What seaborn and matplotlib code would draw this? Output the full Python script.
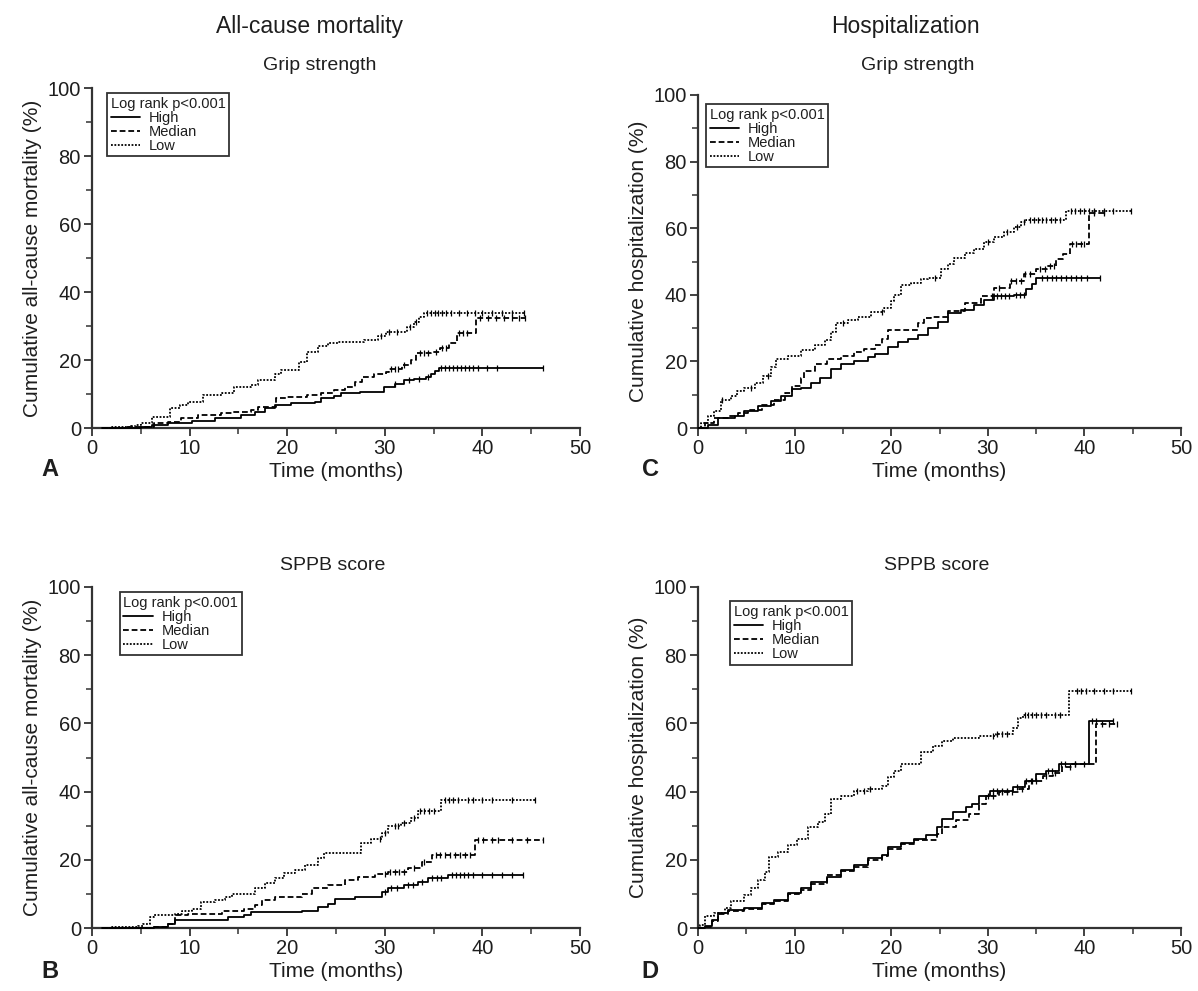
import numpy as np
import matplotlib
matplotlib.use("Agg")
import matplotlib.pyplot as plt
from matplotlib.lines import Line2D
from matplotlib.ticker import MultipleLocator
import seaborn as sns

# ---------------- data ----------------
GROUPS = ["High", "Median", "Low"]
COL_TITLES = ["All-cause mortality", "Hospitalization"]
ROW_TITLES = ["Grip strength", "SPPB score"]
YLABELS = ["Cumulative all-cause mortality (%)", "Cumulative hospitalization (%)"]
XLABEL = "Time (months)"
LEGEND_TITLE = "Log rank p<0.001"
PANEL_LETTERS = ["A", "C", "B", "D"]

# Panel A: grip strength, mortality
A_high_t = [1, 5, 6.1, 7.8, 10.2, 12.6, 15.3, 16.7, 17.7, 18.7, 20.4, 22.8, 23.5, 24.8, 25.5, 27.5, 29.9, 31, 32, 33, 34.2, 34.7, 35.1, 35.6, 46.2]
A_high_y = [0, 0.2, 0.9, 1.4, 2.0, 3.0, 3.8, 4.8, 5.8, 6.8, 7.3, 7.7, 8.7, 9.4, 10.2, 10.7, 12.2, 13.0, 14.0, 14.5, 15.0, 16.0, 16.8, 17.7, 17.7]
A_high_c = [31, 32.5, 33.5, 34.4, 35.8, 36.2, 36.6, 37.0, 37.4, 37.8, 38.2, 38.6, 39.0, 39.5, 40.5, 41.5, 46.2]
A_med_t = [1, 3.5, 5, 6.4, 7.8, 9.1, 10.9, 13.2, 14.3, 16.3, 17.0, 18.9, 20.0, 22.0, 23.5, 24.8, 25.9, 26.9, 27.7, 28.9, 30.1, 30.4, 31.8, 32.7, 33.2, 34.7, 35.7, 36.6, 37.4, 39.3, 44.4]
A_med_y = [0, 0.2, 0.4, 1.4, 1.9, 2.8, 3.8, 4.3, 4.8, 5.3, 6.3, 8.7, 9.2, 9.7, 10.2, 11.2, 12.2, 13.6, 15.0, 16.0, 16.6, 17.5, 18.5, 20.0, 22.0, 22.5, 23.4, 25.0, 27.8, 32.3, 32.3]
A_med_c = [30.6, 31.0, 31.4, 32.0, 33.6, 34.0, 34.4, 35.2, 35.9, 36.3, 37.6, 38.0, 38.4, 39.8, 40.6, 41.4, 42.2, 43.0, 43.8, 44.4]
A_low_t = [1, 2.0, 3.0, 4.0, 4.5, 5.0, 6.1, 8.0, 9.0, 9.8, 11.4, 13.3, 14.6, 16.3, 17.0, 18.7, 19.4, 21.2, 22.0, 23.2, 24.2, 25.2, 27.9, 29.3, 30.1, 32.3, 33.0, 33.5, 34.0, 44.3]
A_low_y = [0, 0.2, 0.4, 0.6, 0.8, 1.4, 3.3, 5.8, 6.8, 7.7, 9.7, 10.2, 12.2, 12.6, 14.0, 16.0, 17.0, 19.5, 22.5, 24.0, 25.0, 25.4, 26.0, 27.0, 28.3, 29.8, 31.3, 32.7, 33.7, 33.7]
A_low_c = [29.6, 30.4, 31.2, 32.6, 33.2, 34.3, 34.7, 35.1, 35.5, 35.9, 36.3, 36.8, 37.6, 38.4, 39.2, 40.0, 41.0, 42.0, 43.0, 44.3]

# Panel C: grip strength, hospitalization
C_high_t = [0, 1.0, 2.1, 3.8, 4.8, 6.2, 7.6, 8.6, 9.7, 10.7, 11.7, 12.6, 13.8, 14.8, 16.2, 17.6, 18.3, 19.7, 20.7, 21.7, 22.8, 23.8, 24.8, 25.9, 27.2, 28.6, 29.6, 30.6, 32.7, 34.0, 34.6, 35.0, 41.6]
C_high_y = [0, 0.9, 3.0, 3.7, 5.0, 6.5, 8.0, 9.6, 11.6, 12.0, 13.6, 15.1, 17.7, 19.2, 20.2, 21.2, 22.3, 24.3, 25.8, 26.8, 27.8, 29.9, 31.9, 34.5, 35.5, 37.0, 38.5, 39.5, 40.0, 41.6, 43.1, 45.1, 45.1]
C_high_c = [31.0, 31.4, 31.8, 32.2, 32.9, 33.3, 33.7, 35.6, 36.1, 36.6, 37.1, 37.6, 38.1, 38.6, 39.1, 39.6, 40.3, 41.6]
C_med_t = [0, 0.7, 1.7, 3.1, 4.1, 5.2, 6.6, 7.9, 9.0, 9.7, 10.7, 11.0, 12.1, 13.4, 14.8, 16.2, 17.2, 18.3, 19.0, 19.7, 22.8, 23.4, 24.1, 25.9, 27.6, 29.3, 30.6, 32.3, 33.7, 35.0, 36.1, 37.1, 37.8, 38.5, 40.5, 42.0]
C_med_y = [0, 1.4, 3.0, 3.7, 4.5, 5.5, 7.0, 8.5, 10.6, 12.6, 15.1, 17.2, 19.2, 20.7, 21.7, 22.8, 23.8, 24.8, 26.8, 29.4, 31.4, 32.9, 33.4, 35.0, 37.5, 39.5, 42.0, 44.1, 46.1, 47.7, 48.7, 50.7, 52.2, 55.3, 64.6, 64.6]
C_med_c = [30.4, 31.2, 32.4, 32.9, 33.4, 33.9, 34.4, 35.4, 35.9, 36.4, 36.9, 38.7, 39.1, 39.6, 40.0, 41.0, 42.0]
C_low_t = [0, 0.3, 1.0, 1.7, 2.4, 3.4, 4.0, 4.8, 5.9, 6.7, 7.6, 8.1, 9.3, 10.7, 12.1, 13.1, 13.8, 14.3, 15.5, 16.6, 17.9, 19.3, 20.0, 20.3, 21.0, 22.0, 23.1, 23.8, 25.2, 25.9, 26.5, 27.6, 28.6, 29.6, 30.6, 31.7, 32.7, 33.4, 34.0, 38.1, 44.8]
C_low_y = [0, 1.4, 3.5, 5.0, 8.5, 9.6, 11.0, 12.0, 13.6, 15.6, 18.2, 20.7, 21.7, 23.3, 24.8, 26.3, 28.9, 31.4, 32.4, 33.4, 34.8, 36.0, 38.0, 40.0, 43.0, 43.6, 44.6, 45.0, 47.7, 49.2, 51.2, 52.7, 53.8, 55.8, 57.3, 58.8, 60.4, 61.9, 62.4, 65.2, 65.2]
C_low_c = [2.5, 5.5, 7.2, 15.0, 19.0, 24.5, 30.0, 32.0, 33.0, 33.7, 34.4, 34.8, 35.2, 35.6, 36.0, 36.5, 37.0, 37.5, 38.6, 39.0, 39.5, 40.0, 40.5, 41.0, 42.0, 43.0, 44.8]

# Panel B: SPPB score, mortality
B_high_t = [1, 6.4, 7.8, 8.5, 13.9, 15.6, 16.3, 21.5, 23.2, 24.2, 24.9, 26.9, 29.7, 30.3, 32.0, 33.4, 34.4, 36.5, 44.2]
B_high_y = [0, 0.2, 1.2, 2.4, 3.2, 3.7, 4.7, 5.1, 6.1, 7.1, 8.6, 9.1, 10.6, 11.6, 12.6, 13.6, 14.6, 15.5, 15.5]
B_high_c = [30.0, 30.6, 31.2, 32.4, 32.9, 33.8, 34.8, 35.3, 35.8, 36.9, 37.3, 37.7, 38.1, 38.5, 39.0, 40.0, 41.0, 42.0, 43.0, 44.2]
B_med_t = [1, 6.4, 7.8, 8.5, 9.8, 13.3, 15.6, 16.7, 17.4, 18.7, 21.5, 22.5, 24.2, 25.9, 27.3, 29.0, 30.3, 32.4, 33.8, 34.8, 39.2, 46.2]
B_med_y = [0, 0.2, 1.2, 3.7, 4.2, 5.1, 5.6, 6.6, 8.1, 9.1, 10.1, 11.6, 12.6, 14.1, 15.0, 15.8, 16.5, 17.5, 19.5, 21.5, 25.7, 25.7]
B_med_c = [30.0, 30.5, 31.0, 31.5, 32.0, 33.0, 34.0, 35.2, 35.7, 36.2, 36.7, 37.2, 37.7, 38.2, 38.7, 39.6, 40.1, 41.0, 41.6, 43.0, 44.6, 46.2]
B_low_t = [1, 2.0, 3.5, 4.7, 5.2, 5.9, 6.4, 8.5, 9.2, 10.2, 11.2, 12.6, 13.6, 14.3, 16.7, 17.7, 18.7, 19.7, 20.8, 21.8, 23.2, 23.8, 27.6, 28.6, 29.7, 30.3, 31.7, 32.7, 33.4, 35.8, 45.4]
B_low_y = [0, 0.2, 0.4, 0.6, 1.2, 3.2, 3.7, 4.2, 5.1, 5.6, 7.6, 8.1, 9.1, 10.1, 11.6, 13.1, 14.6, 16.0, 17.0, 18.5, 20.5, 22.0, 25.0, 26.0, 28.0, 29.9, 30.9, 32.4, 34.4, 37.5, 37.5]
B_low_c = [29.5, 30.0, 31.0, 31.4, 32.0, 33.0, 33.6, 34.0, 34.5, 35.0, 36.2, 36.6, 37.0, 37.5, 38.5, 39.0, 40.0, 41.0, 43.0, 45.4]

# Panel D: SPPB score, hospitalization
D_high_t = [0, 0.7, 1.4, 2.1, 3.1, 4.8, 6.6, 7.9, 9.3, 10.7, 11.7, 13.4, 14.8, 16.2, 17.6, 19.0, 19.7, 21.0, 22.4, 23.6, 24.7, 25.3, 26.4, 27.7, 28.4, 29.1, 30.2, 32.6, 33.9, 35.0, 36.0, 37.4, 40.5, 43.0]
D_high_y = [0, 0.5, 2.4, 4.4, 5.3, 5.8, 7.3, 8.3, 10.2, 11.7, 13.6, 15.0, 17.0, 18.4, 20.4, 21.4, 23.8, 24.8, 26.2, 27.2, 29.6, 32.0, 34.0, 35.4, 36.4, 38.8, 40.3, 41.3, 43.2, 45.1, 46.1, 48.1, 60.7, 60.7]
D_high_c = [30.5, 31.0, 31.5, 32.0, 33.0, 34.0, 34.5, 36.2, 36.6, 37.6, 38.0, 39.0, 40.8, 41.2, 43.0]
D_med_t = [0, 0.7, 1.4, 2.1, 3.1, 4.8, 6.6, 7.9, 9.3, 10.7, 11.7, 13.4, 14.8, 16.2, 17.6, 19.0, 19.7, 21.0, 22.4, 24.7, 25.3, 26.7, 28.1, 29.1, 29.8, 31.2, 33.2, 34.3, 35.7, 36.7, 37.7, 38.7, 41.2, 43.4]
D_med_y = [0, 0.3, 2.0, 4.0, 5.0, 5.6, 7.0, 8.0, 10.0, 11.2, 13.0, 15.5, 16.6, 18.0, 20.0, 21.0, 23.3, 24.5, 25.7, 27.7, 29.6, 31.6, 33.5, 36.4, 38.8, 39.8, 40.8, 43.2, 44.7, 45.6, 47.1, 48.1, 59.7, 59.7]
D_med_c = [30.0, 30.5, 31.5, 32.0, 32.5, 33.5, 34.6, 35.0, 36.0, 37.0, 38.5, 39.0, 40.0, 41.8, 42.5, 43.4]
D_low_t = [0, 0.2, 0.7, 1.7, 2.8, 3.4, 4.8, 5.5, 6.2, 6.9, 7.4, 8.3, 9.3, 10.3, 11.4, 12.4, 13.1, 13.8, 14.8, 16.2, 17.6, 19.0, 19.7, 20.3, 21.0, 23.1, 24.3, 25.3, 26.4, 29.1, 30.8, 32.6, 33.1, 33.6, 38.4, 44.8]
D_low_y = [0, 1.0, 3.4, 4.4, 5.8, 7.8, 9.7, 11.7, 14.1, 16.5, 20.9, 22.3, 24.3, 26.2, 29.6, 31.1, 33.5, 37.9, 38.8, 40.3, 40.8, 41.7, 44.2, 46.1, 48.1, 51.5, 53.4, 54.9, 55.8, 56.3, 56.8, 58.7, 61.7, 62.6, 69.6, 69.6]
D_low_c = [16.5, 17.2, 17.8, 30.5, 31.0, 31.5, 32.0, 33.8, 34.2, 34.6, 35.0, 35.5, 36.0, 37.0, 37.5, 39.2, 39.6, 40.2, 41.0, 42.0, 43.0, 44.8]

PANELS = {
    "A": [(A_high_t, A_high_y, A_high_c), (A_med_t, A_med_y, A_med_c), (A_low_t, A_low_y, A_low_c)],
    "C": [(C_high_t, C_high_y, C_high_c), (C_med_t, C_med_y, C_med_c), (C_low_t, C_low_y, C_low_c)],
    "B": [(B_high_t, B_high_y, B_high_c), (B_med_t, B_med_y, B_med_c), (B_low_t, B_low_y, B_low_c)],
    "D": [(D_high_t, D_high_y, D_high_c), (D_med_t, D_med_y, D_med_c), (D_low_t, D_low_y, D_low_c)],
}

# ---------------- style ----------------
sns.set_theme(style="ticks")
plt.rcParams["font.family"] = ["Liberation Sans", "DejaVu Sans"]
TXT = "#1e1e1e"
LINESTYLES = {"High": "-", "Median": (0, (3.2, 1.6)), "Low": (0, (1.0, 0.9))}

W, H = 1198, 991
fig = plt.figure(figsize=(W / 100, H / 100), dpi=100)

def px_axes(left, top, right, bottom):
    return fig.add_axes([left / W, 1 - bottom / H, (right - left) / W, (bottom - top) / H])

AX_BOXES = {"A": (92, 88, 580, 428), "C": (698, 95, 1181, 428),
            "B": (92, 587, 580, 928), "D": (698, 587, 1181, 928)}
LEG_POS = {"A": (0.031, 0.985), "C": (0.017, 0.973), "B": (0.057, 0.985), "D": (0.066, 0.958)}
YLAB = {"A": YLABELS[0], "B": YLABELS[0], "C": YLABELS[1], "D": YLABELS[1]}

for key, curves in PANELS.items():
    ax = px_axes(*AX_BOXES[key])
    for grp, (t, y, c) in zip(GROUPS, curves):
        t = np.asarray(t, float)
        y = np.asarray(y, float)
        sns.lineplot(x=t, y=y, ax=ax, color="black", lw=1.3, drawstyle="steps-post",
                     linestyle=LINESTYLES[grp], estimator=None, sort=False, legend=False,
                     zorder=3, clip_on=False)
        c = np.asarray(c, float)
        idx = np.clip(np.searchsorted(t, c, side="right") - 1, 0, len(y) - 1)
        ax.plot(c, y[idx], linestyle="none", marker="|", ms=5, mew=0.9, color="black", zorder=3)
    ax.set_xlim(0, 50)
    ax.set_ylim(0, 100)
    ax.xaxis.set_major_locator(MultipleLocator(10))
    ax.xaxis.set_minor_locator(MultipleLocator(5))
    ax.yaxis.set_major_locator(MultipleLocator(20))
    ax.yaxis.set_minor_locator(MultipleLocator(10))
    ax.tick_params(which="major", length=6, width=1.3, labelsize=14.5, colors="#333333", labelcolor=TXT, pad=2)
    ax.tick_params(which="minor", length=4, width=1.1, colors="#333333")
    for s in ("top", "right"):
        ax.spines[s].set_visible(False)
    for s in ("left", "bottom"):
        ax.spines[s].set_linewidth(1.6)
        ax.spines[s].set_color("#333333")
        ax.spines[s].set_zorder(2)
    ax.set_xlabel(XLABEL, fontsize=15, color=TXT, labelpad=3)
    ax.set_ylabel(YLAB[key], fontsize=15, color=TXT, labelpad=4)
    handles = [Line2D([], [], color="black", lw=1.3, linestyle=LINESTYLES[g]) for g in GROUPS]
    leg = ax.legend(handles, GROUPS, title=LEGEND_TITLE, loc="upper left",
                    bbox_to_anchor=LEG_POS[key], borderaxespad=0, fontsize=10.5,
                    title_fontsize=10.5, frameon=True, fancybox=False, framealpha=1,
                    edgecolor="#333333", borderpad=0.25, labelspacing=0.0,
                    handlelength=2.0, handletextpad=0.6, alignment="left")
    leg.get_frame().set_linewidth(1.3)
    for tx in leg.get_texts():
        tx.set_color(TXT)
    leg.get_title().set_color(TXT)

# column titles, panel sub-titles, panel letters
fig.text(310 / W, 1 - 27 / H, COL_TITLES[0], ha="center", va="center", fontsize=16.5, color=TXT)
fig.text(905 / W, 1 - 27 / H, COL_TITLES[1], ha="center", va="center", fontsize=16.5, color=TXT)
fig.text(320 / W, 1 - 65 / H, ROW_TITLES[0], ha="center", va="center", fontsize=14, color=TXT)
fig.text(918 / W, 1 - 65 / H, ROW_TITLES[0], ha="center", va="center", fontsize=14, color=TXT)
fig.text(333 / W, 1 - 565 / H, ROW_TITLES[1], ha="center", va="center", fontsize=14, color=TXT)
fig.text(937 / W, 1 - 565 / H, ROW_TITLES[1], ha="center", va="center", fontsize=14, color=TXT)
for letter, (x, y) in zip(PANEL_LETTERS, [(50, 470), (650, 470), (50, 972), (650, 972)]):
    fig.text(x / W, 1 - y / H, letter, ha="center", va="center", fontsize=17, fontweight="bold", color=TXT)

fig.savefig("out.png", dpi=100)
